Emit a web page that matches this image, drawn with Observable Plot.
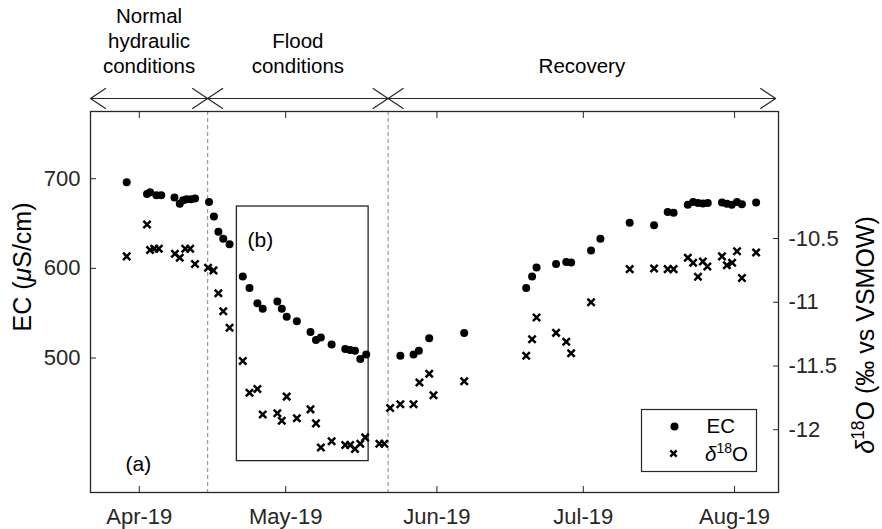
<!DOCTYPE html>
<html>
<head>
<meta charset="utf-8">
<script src="https://cdn.jsdelivr.net/npm/d3@7"></script>
<script src="https://cdn.jsdelivr.net/npm/@observablehq/plot@0.6"></script>
<style>
  body { margin: 0; background: #fff; }
  svg { font-family: "Liberation Sans", Arial, Helvetica, sans-serif; }
</style>
</head>
<body>
<div id="chart"></div>
<script>
// ---------- data ----------
const ecDates = [
  "2019-03-29T10","2019-04-02T14","2019-04-03T05","2019-04-04T12","2019-04-05T12",
  "2019-04-08T05","2019-04-09T07","2019-04-10T00","2019-04-10T17","2019-04-11T14","2019-04-12T10",
  "2019-04-15T07","2019-04-16T07","2019-04-17T05","2019-04-18T05","2019-04-19T12",
  "2019-04-22T05","2019-04-23T14","2019-04-25T05","2019-04-26T07","2019-04-29T07","2019-04-30T05",
  "2019-05-01T05","2019-05-03T07","2019-05-06T02","2019-05-07T05","2019-05-08T05","2019-05-10T10",
  "2019-05-13T05","2019-05-14T05","2019-05-15T05","2019-05-16T07","2019-05-17T12",
  "2019-05-24T12","2019-05-27T05","2019-05-28T07","2019-05-30T10","2019-06-06T14",
  "2019-06-19T07","2019-06-20T12","2019-06-21T10","2019-06-25T10","2019-06-27T12","2019-06-28T12",
  "2019-07-02T14","2019-07-04T12","2019-07-10T12","2019-07-15T12","2019-07-18T07","2019-07-19T12",
  "2019-07-22T10","2019-07-23T12","2019-07-24T12","2019-07-25T12","2019-07-26T12",
  "2019-07-29T10","2019-07-30T10","2019-07-31T10","2019-08-01T12","2019-08-02T12","2019-08-05T10"
];
const ecValues = [
  696, 683, 685, 681.5, 681.5,
  679, 672, 676, 677, 677, 678,
  674, 658, 641, 633, 627,
  591, 578, 561, 555, 563, 555,
  546, 541, 529, 520, 523, 515,
  510, 509, 508, 499, 504,
  502.5, 504, 508, 522, 528,
  578, 591, 601, 605, 607, 606.5,
  620, 633, 651, 648, 663, 662,
  671, 674, 673, 672.5, 673,
  673.5, 672, 671, 674, 671.5, 673.5
];
const d18oDates = [
  "2019-03-29T10","2019-04-02T14","2019-04-03T05","2019-04-04T02","2019-04-05T00",
  "2019-04-08T07","2019-04-09T07","2019-04-10T10","2019-04-11T10","2019-04-12T10",
  "2019-04-15T02","2019-04-16T05","2019-04-17T05","2019-04-18T05","2019-04-19T12",
  "2019-04-22T05","2019-04-23T14","2019-04-25T05","2019-04-26T07","2019-04-29T07","2019-04-30T05",
  "2019-05-01T05","2019-05-03T07","2019-05-06T02","2019-05-07T05","2019-05-08T05","2019-05-10T10",
  "2019-05-13T05","2019-05-14T05","2019-05-15T05","2019-05-16T07","2019-05-17T07",
  "2019-05-20T05","2019-05-21T05","2019-05-22T10","2019-05-24T12","2019-05-27T05","2019-05-28T10",
  "2019-05-30T10","2019-05-31T07","2019-06-06T14",
  "2019-06-19T07","2019-06-20T12","2019-06-21T10","2019-06-25T10","2019-06-27T12","2019-06-28T12",
  "2019-07-02T14","2019-07-10T12","2019-07-15T12","2019-07-18T07","2019-07-19T12",
  "2019-07-22T10","2019-07-23T12","2019-07-24T12","2019-07-25T12","2019-07-26T10",
  "2019-07-29T10","2019-07-30T10","2019-07-31T12","2019-08-01T12","2019-08-02T12","2019-08-05T10"
];
const d18oValues = [
  -10.64, -10.39, -10.59, -10.58, -10.58,
  -10.62, -10.65, -10.58, -10.58, -10.70,
  -10.73, -10.75, -10.93, -11.07, -11.20,
  -11.46, -11.71, -11.68, -11.88, -11.87, -11.93,
  -11.74, -11.91, -11.84, -11.95, -12.14, -12.09,
  -12.12, -12.12, -12.15, -12.11, -12.06,
  -12.11, -12.11, -11.83, -11.80, -11.80, -11.63,
  -11.56, -11.73, -11.62,
  -11.42, -11.29, -11.12, -11.24, -11.31, -11.40,
  -11.00, -10.74, -10.735, -10.74, -10.74,
  -10.65, -10.69, -10.80, -10.68, -10.72,
  -10.64, -10.71, -10.69, -10.60, -10.81, -10.61
];
const monthTicks = ["2019-04-01","2019-05-01","2019-06-01","2019-07-01","2019-08-01"];
const monthLabels = ["Apr-19","May-19","Jun-19","Jul-19","Aug-19"];
const ecTicks = [500, 600, 700];
const d18oTicks = [-12, -11.5, -11, -10.5];
const d18oTickLabels = ["-12", "-11.5", "-11", "-10.5"];
const phaseBounds = ["2019-03-22T00","2019-04-15T00","2019-05-22T00","2019-08-09T10"];
const phaseNames = ["Normal\nhydraulic\nconditions", "Flood\nconditions", "Recovery"];
const zoomBoxDates = ["2019-04-21T00", "2019-05-18T00"];
const zoomBoxEc = [385, 669];

// ---------- build ----------
const P = d3.utcParse("%Y-%m-%dT%H");
const D = d3.utcParse("%Y-%m-%d");
// right axis (δ18O) mapped onto the left (EC) scale
const toEc = d => 633.3 + (d + 10.5) * 142.2;

const ec = ecDates.map((t, i) => ({date: P(t), value: ecValues[i]}));
const iso = d18oDates.map((t, i) => ({date: P(t), value: toEc(d18oValues[i])}));
const tickDates = monthTicks.map(D);
const monthLabelMap = new Map(tickDates.map((d, i) => [+d, monthLabels[i]]));
const rightPos = d18oTicks.map(toEc);
const rightLabelMap = new Map(rightPos.map((p, i) => [p, d18oTickLabels[i]]));
const bounds = phaseBounds.map(P);
const phases = phaseNames.map((name, i) => ({name, mid: new Date((+bounds[i] + +bounds[i + 1]) / 2)}));
const arrows = [];
phases.forEach((p, i) => {
  arrows.push({x1: p.mid, x2: bounds[i]});
  arrows.push({x1: p.mid, x2: bounds[i + 1]});
});
const zoomBox = [{x1: P(zoomBoxDates[0]), x2: P(zoomBoxDates[1]), y1: zoomBoxEc[0], y2: zoomBoxEc[1]}];

const ink = "#262626";
const yTop = 775;

const plot = Plot.plot({
  width: 882,
  height: 529,
  marginLeft: 90,
  marginRight: 104,
  marginTop: 111,
  marginBottom: 37,
  style: {fontFamily: '"Liberation Sans", Arial, Helvetica, sans-serif', fontSize: "22px", color: ink, background: "white", overflow: "visible"},
  x: {type: "utc", domain: [P("2019-03-22T00"), P("2019-08-10T00")]},
  y: {domain: [350, yTop]},
  marks: [
    Plot.ruleX(bounds.slice(1, 3), {stroke: "#9a9a9a", strokeWidth: 1.2, strokeDasharray: "4,3"}),
    Plot.rect(zoomBox, {x1: "x1", x2: "x2", y1: "y1", y2: "y2", fill: "none", stroke: ink, strokeWidth: 1.3}),
    Plot.dot(ec, {x: "date", y: "value", r: 4, fill: "black"}),
    Plot.dot(iso, {x: "date", y: "value", symbol: "times", r: 3.4, stroke: "black", strokeWidth: 2.5}),
    Plot.frame({stroke: ink, strokeWidth: 1.3}),
    Plot.axisX(tickDates, {anchor: "bottom", tickSize: 6, dy: -6, tickPadding: 16, tickFormat: d => monthLabelMap.get(+d), label: null, fontSize: 22, stroke: ink, fill: ink}),
    Plot.axisX(tickDates, {anchor: "top", tickSize: 6, dy: 6, tickFormat: () => "", label: null, stroke: ink}),
    Plot.axisY(ecTicks, {anchor: "left", tickSize: 6, dx: 6, tickPadding: 10, tickFormat: d => String(d), label: null, fontSize: 22, stroke: ink, fill: ink}),
    Plot.axisY(rightPos, {anchor: "right", tickSize: 6, dx: -6, tickPadding: 10, tickFormat: d => rightLabelMap.get(d), label: null, fontSize: 22, stroke: ink, fill: ink}),
    Plot.arrow(arrows, {x1: "x1", x2: "x2", y1: yTop, y2: yTop, dy: -13, stroke: ink, strokeWidth: 1.2, headLength: 22.5, headAngle: 67}),
    Plot.text(phases, {x: "mid", text: "name", frameAnchor: "top", lineAnchor: "bottom", dy: -39, lineHeight: 1.2, fontSize: 20.5, fill: "black"}),
    Plot.text(["(b)"], {frameAnchor: "top-left", textAnchor: "start", lineAnchor: "middle", dx: 157, dy: 129, fontSize: 21, fill: "black"}),
    Plot.text(["(a)"], {frameAnchor: "bottom-left", textAnchor: "start", lineAnchor: "middle", dx: 35, dy: -28, fontSize: 21, fill: "black"}),
    // legend
    Plot.frame({insetLeft: 551, insetRight: 22, insetTop: 298, insetBottom: 21, stroke: ink, strokeWidth: 1.2, fill: "white"}),
    Plot.dot([0], {frameAnchor: "bottom-right", dx: -104, dy: -66, r: 4, fill: "black"}),
    Plot.dot([0], {frameAnchor: "bottom-right", dx: -105, dy: -39, symbol: "times", r: 3.0, stroke: "black", strokeWidth: 2.4}),
    Plot.text(["EC"], {frameAnchor: "bottom-right", dx: -72, dy: -66, textAnchor: "start", lineAnchor: "middle", fontSize: 20.5, fill: "black"})
  ]
});

document.getElementById("chart").appendChild(plot);

// rich text (italic μ / δ, superscript 18)
const svg = d3.select(plot);
const left = svg.append("text")
  .attr("transform", "translate(31,267) rotate(-90)")
  .attr("text-anchor", "middle").attr("font-size", 25).attr("fill", "black");
left.append("tspan").text("EC (");
left.append("tspan").attr("font-style", "italic").text("\u03bc");
left.append("tspan").text("S/cm)");

const right = svg.append("text")
  .attr("transform", "translate(874,335) rotate(-90)")
  .attr("text-anchor", "middle").attr("font-size", 25).attr("fill", "black");
right.append("tspan").attr("font-style", "italic").text("\u03b4");
right.append("tspan").attr("font-size", 17.5).attr("dy", -10).text("18");
right.append("tspan").attr("dy", 10).text("O (\u2030 vs VSMOW)");

const leg = svg.append("text")
  .attr("x", 705).attr("y", 461)
  .attr("text-anchor", "start")
  .attr("font-size", 20.5).attr("fill", "black");
leg.append("tspan").attr("font-style", "italic").text("\u03b4");
leg.append("tspan").attr("font-size", 14).attr("dy", -8).text("18");
leg.append("tspan").attr("dy", 8).text("O");
</script>
</body>
</html>
